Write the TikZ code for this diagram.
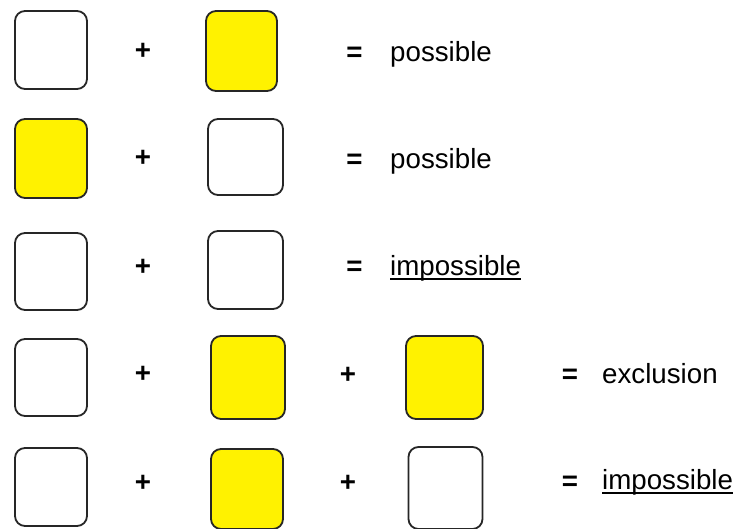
\documentclass[tikz,border=0pt]{standalone}
\usepackage{fontspec}
\setmainfont{Liberation Sans}
\begin{document}
\begin{tikzpicture}[x=1pt,y=-1pt,
  card/.style={draw=black!85, line width=1.8pt, rounded corners=10pt, inner sep=0pt, fill=white},
  ycard/.style={card, fill=yellow},
  sym/.style={anchor=base, inner sep=0pt, font=\fontsize{27.7}{33}\selectfont\bfseries},
  word/.style={anchor=base west, inner sep=0pt, font=\fontsize{27.7}{33}\selectfont},
  uline/.style={line width=1.5pt}]
\useasboundingbox (0,0) rectangle (736,528);
% row 1
\node[card, minimum width=72pt, minimum height=78pt] (a1) at (51,50) {};
\node[ycard, minimum width=71pt, minimum height=80pt] (b1) at (241.5,51) {};
\node[sym] (p1) at (143,59) {+};
\node[sym] (e1) at (354.5,61) {=};
\node[word] (t1) at (390,61) {possible};
% row 2
\node[ycard, minimum width=72pt, minimum height=79pt] (a2) at (51,158.5) {};
\node[card, minimum width=75pt, minimum height=76pt] (b2) at (245.5,157) {};
\node[sym] (p2) at (143,166) {+};
\node[sym] (e2) at (354.5,168) {=};
\node[word] (t2) at (390,168) {possible};
% row 3
\node[card, minimum width=72pt, minimum height=77pt] (a3) at (51,271.5) {};
\node[card, minimum width=75pt, minimum height=78pt] (b3) at (245.5,270) {};
\node[sym] (p3) at (143,275) {+};
\node[sym] (e3) at (354.5,275) {=};
\node[word] (t3) at (390,275) {impossible};
\draw[uline] ([yshift=-4pt]t3.base west) -- ([yshift=-4pt]t3.base east);
% row 4
\node[card, minimum width=72pt, minimum height=77pt] (a4) at (51,377.5) {};
\node[ycard, minimum width=74pt, minimum height=83pt] (b4) at (248,377.5) {};
\node[ycard, minimum width=77pt, minimum height=83pt] (c4) at (444.5,377.5) {};
\node[sym] (p4) at (143,382) {+};
\node[sym] (q4) at (348,383) {+};
\node[sym] (e4) at (570,383) {=};
\node[word] (t4) at (602,383) {exclusion};
% row 5
\node[card, minimum width=72pt, minimum height=78pt] (a5) at (51,487) {};
\node[ycard, minimum width=72pt, minimum height=80pt] (b5) at (247,489) {};
\node[card, minimum width=74pt, minimum height=82pt] (c5) at (445.5,488) {};
\node[sym] (p5) at (143,491) {+};
\node[sym] (q5) at (348,491) {+};
\node[sym] (e5) at (570,490) {=};
\node[word] (t5) at (602,489) {impossible};
\draw[uline] ([yshift=-4pt]t5.base west) -- ([yshift=-4pt]t5.base east);
\end{tikzpicture}
\end{document}
